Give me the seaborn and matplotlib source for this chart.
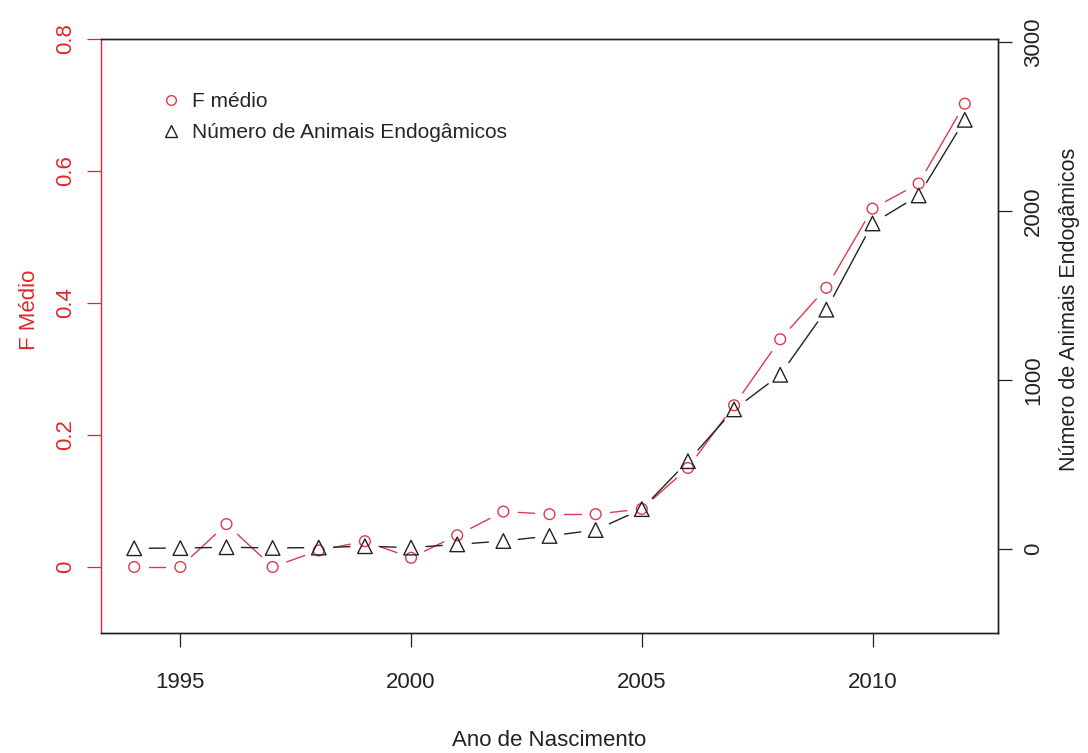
import numpy as np
import pandas as pd
import matplotlib
matplotlib.use("Agg")
import matplotlib.pyplot as plt
from matplotlib.lines import Line2D
import seaborn as sns

# Dados
anos = list(range(1994, 2013))
f_medio = [0.0, 0.0, 0.065, 0.0, 0.025, 0.039, 0.014, 0.048, 0.084, 0.080,
           0.080, 0.088, 0.150, 0.245, 0.345, 0.423, 0.543, 0.581, 0.702]
n_endog = [2, 3, 8, 4, 6, 14, 6, 25, 45, 75,
           110, 234, 518, 825, 1030, 1416, 1927, 2093, 2541]

ticks_x = [1995, 2000, 2005, 2010]
ticks_f = [0, 0.2, 0.4, 0.6, 0.8]
labels_f = ["0", "0.2", "0.4", "0.6", "0.8"]
ticks_n = [0, 1000, 2000, 3000]

VERMELHO = "#DF3A4C"
VERM_EIXO = "#E0262E"
PRETO = "#222222"

sns.set_theme(style="white")
plt.rcParams["font.family"] = ["Liberation Sans", "DejaVu Sans"]

df = pd.DataFrame({"ano": anos, "f": f_medio, "n": n_endog})

fig = plt.figure(figsize=(10.88, 7.53), dpi=100)
ax = fig.add_axes([0.0928, 0.1594, 0.8245, 0.7888])
ax2 = ax.twinx()

ax.set_xlim(1993.28, 2012.72)
ax.set_ylim(-0.1, 0.8)
ax2.set_ylim(-500, 3020)


def linha_com_espaco(eixo, x, y, cor, espaco=15):
    # segmentos estilo type="b" do R: a linha para antes de cada ponto
    pts = eixo.transData.transform(np.column_stack([x, y]))
    inv = eixo.transData.inverted()
    for p0, p1 in zip(pts[:-1], pts[1:]):
        d = p1 - p0
        comp = np.hypot(*d)
        if comp <= 2 * espaco:
            continue
        u = d / comp
        a = inv.transform(p0 + u * espaco)
        b = inv.transform(p1 - u * espaco)
        eixo.plot([a[0], b[0]], [a[1], b[1]], color=cor, lw=1.0, zorder=2)


linha_com_espaco(ax, df["ano"], df["f"], VERMELHO)
sns.scatterplot(data=df, x="ano", y="f", ax=ax, marker="o", s=60,
                facecolor="none", edgecolor=VERMELHO, linewidth=1.0, zorder=3)

linha_com_espaco(ax2, df["ano"], df["n"], PRETO)
sns.scatterplot(data=df, x="ano", y="n", ax=ax2, marker="^", s=110,
                facecolor="none", edgecolor=PRETO, linewidth=1.0, zorder=3)

ax.set_xlim(1993.28, 2012.72)
ax.set_ylim(-0.1, 0.8)
ax2.set_ylim(-500, 3020)

# eixos
ax.set_xticks(ticks_x)
ax.set_xticklabels([str(t) for t in ticks_x])
ax.set_yticks(ticks_f)
ax.set_yticklabels(labels_f)
ax2.set_yticks(ticks_n)
ax2.set_yticklabels([str(t) for t in ticks_n])

ax.tick_params(axis="x", length=10, width=0.9, color=PRETO, pad=18,
               labelsize=16, labelcolor=PRETO, bottom=True)
ax.tick_params(axis="y", length=10, width=0.9, color=VERM_EIXO, pad=8,
               labelsize=16, labelcolor=VERM_EIXO, labelrotation=90, left=True)
ax2.tick_params(axis="y", length=10, width=0.9, color=PRETO, pad=8,
                labelsize=16, labelcolor=PRETO, labelrotation=90, right=True)
for lab in ax.get_yticklabels():
    lab.set_va("center")
for lab in ax2.get_yticklabels():
    lab.set_va("center")

for eixo in (ax, ax2):
    for sp in eixo.spines.values():
        sp.set_color(PRETO)
        sp.set_linewidth(1.0)
ax.spines["left"].set_color(VERM_EIXO)
ax2.spines["left"].set_visible(False)

ax.set_xlabel("Ano de Nascimento", fontsize=16, color=PRETO)
ax.xaxis.set_label_coords(0.5, -0.163)
ax.set_ylabel("F Médio", fontsize=16, color=VERM_EIXO)
ax.yaxis.set_label_coords(-0.068, 0.544)
ax2.set_ylabel("Número de Animais Endogâmicos", fontsize=15.5, color=PRETO,
               rotation=90)
ax2.yaxis.label.set_va("top")
ax2.yaxis.set_label_coords(1.068, 0.544)
ax.grid(False)
ax2.grid(False)

# legenda
alcas = [
    Line2D([], [], ls="none", marker="o", markersize=7, markerfacecolor="none",
           markeredgecolor=VERMELHO, markeredgewidth=1.0),
    Line2D([], [], ls="none", marker="^", markersize=8.5, markerfacecolor="none",
           markeredgecolor=PRETO, markeredgewidth=1.0),
]
ax2.legend(alcas, ["F médio", "Número de Animais Endogâmicos"],
           loc="upper left", bbox_to_anchor=(0.055, 0.925), frameon=False,
           fontsize=15, handletextpad=0.4, labelspacing=0.6,
           handlelength=1.2, borderaxespad=0)

fig.savefig("out.png", dpi=100)
plt.close(fig)
